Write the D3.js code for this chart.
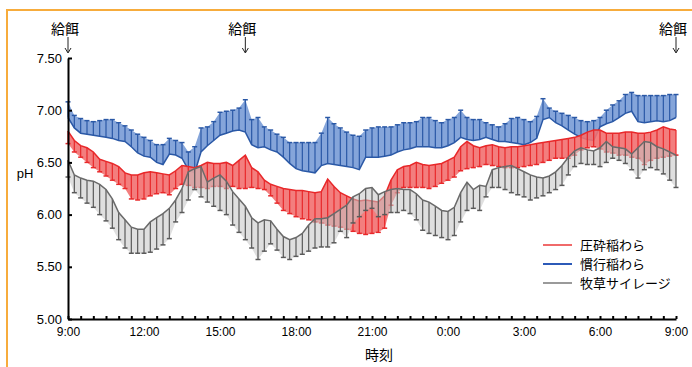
<!DOCTYPE html>
<html>
<head>
<meta charset="utf-8">
<script src="https://cdn.jsdelivr.net/npm/d3@7"></script>
<style>
  body { margin: 0; background: #fff; }
  svg { display: block; font-family: "Liberation Sans", Arial, sans-serif; }
  .jp { font-family: "Noto Sans CJK JP", sans-serif; }
</style>
</head>
<body>
<div id="chart"></div>
<script>
// samples every 15 min from 9:00 to 9:00 next day
const stepHours = 0.25;

const xTickLabels = ['9:00', '12:00', '15:00', '18:00', '21:00', '0:00', '3:00', '6:00', '9:00'];
const yTicks = [5.0, 5.5, 6.0, 6.5, 7.0, 7.5];
const feedHours = [0, 7, 24];
const seriesNames = ['圧砕稲わら', '慣行稲わら', '牧草サイレージ'];

// 慣行稲わら : mean and upper end of the error bar
const blueMean = [6.93, 6.83, 6.78, 6.77, 6.76, 6.75, 6.74, 6.73, 6.71, 6.70,
  6.65, 6.59, 6.56, 6.55, 6.50, 6.48, 6.58, 6.57, 6.54, 6.43,
  6.40, 6.60, 6.66, 6.71, 6.76, 6.78, 6.80, 6.81, 6.79, 6.67,
  6.64, 6.65, 6.62, 6.60, 6.55, 6.49, 6.44, 6.42, 6.41, 6.40,
  6.47, 6.49, 6.48, 6.47, 6.46, 6.45, 6.43, 6.55, 6.55, 6.55,
  6.56, 6.57, 6.60, 6.62, 6.63, 6.65, 6.65, 6.65, 6.64, 6.64,
  6.66, 6.69, 6.74, 6.72, 6.71, 6.72, 6.74, 6.72, 6.70, 6.70,
  6.69, 6.68, 6.67, 6.69, 6.73, 6.91, 6.93, 6.88, 6.85, 6.81,
  6.77, 6.74, 6.72, 6.71, 6.84, 6.87, 6.89, 6.93, 6.97, 6.99,
  6.89, 6.88, 6.89, 6.90, 6.89, 6.90, 6.93];
const blueHi = [7.08, 6.95, 6.92, 6.90, 6.89, 6.90, 6.91, 6.91, 6.88, 6.85,
  6.81, 6.77, 6.74, 6.71, 6.67, 6.67, 6.73, 6.71, 6.69, 6.60,
  6.65, 6.83, 6.84, 6.89, 6.98, 6.99, 7.00, 7.02, 7.10, 6.91,
  6.93, 6.84, 6.81, 6.77, 6.74, 6.69, 6.69, 6.69, 6.69, 6.69,
  6.78, 6.93, 6.87, 6.83, 6.79, 6.76, 6.75, 6.81, 6.83, 6.84,
  6.84, 6.84, 6.86, 6.88, 6.88, 6.89, 6.93, 6.93, 6.90, 6.88,
  6.91, 6.93, 7.00, 6.93, 6.91, 6.91, 6.88, 6.86, 6.84, 6.87,
  6.92, 6.93, 6.91, 6.89, 6.94, 7.11, 7.02, 6.99, 6.97, 6.95,
  6.93, 6.90, 6.89, 6.90, 6.93, 7.00, 7.05, 7.09, 7.15, 7.17,
  7.14, 7.14, 7.14, 7.14, 7.14, 7.15, 7.15];

// 圧砕稲わら : mean and lower end of the error bar
const redMean = [6.80, 6.71, 6.66, 6.64, 6.60, 6.53, 6.51, 6.49, 6.46, 6.40,
  6.38, 6.38, 6.40, 6.41, 6.40, 6.39, 6.38, 6.42, 6.47, 6.46,
  6.45, 6.47, 6.50, 6.49, 6.49, 6.50, 6.47, 6.52, 6.57, 6.45,
  6.41, 6.33, 6.29, 6.27, 6.25, 6.24, 6.23, 6.23, 6.22, 6.21,
  6.22, 6.34, 6.27, 6.21, 6.18, 6.15, 6.13, 6.14, 6.13, 6.12,
  6.18, 6.33, 6.43, 6.46, 6.47, 6.50, 6.48, 6.47, 6.48, 6.49,
  6.52, 6.55, 6.65, 6.70, 6.66, 6.64, 6.66, 6.67, 6.65, 6.64,
  6.65, 6.65, 6.66, 6.67, 6.68, 6.69, 6.70, 6.71, 6.72, 6.73,
  6.74, 6.76, 6.79, 6.81, 6.81, 6.78, 6.78, 6.78, 6.79, 6.79,
  6.78, 6.78, 6.79, 6.81, 6.84, 6.82, 6.81];
const redLo = [6.68, 6.60, 6.55, 6.50, 6.45, 6.41, 6.37, 6.33, 6.29, 6.25,
  6.15, 6.14, 6.15, 6.18, 6.20, 6.21, 6.19, 6.25, 6.29, 6.28,
  6.26, 6.26, 6.25, 6.27, 6.27, 6.25, 6.27, 6.25, 6.25, 6.26,
  6.25, 6.24, 6.18, 6.11, 6.04, 6.01, 5.98, 5.96, 5.95, 5.93,
  5.92, 5.90, 5.89, 5.88, 5.86, 5.84, 5.82, 5.81, 5.82, 5.83,
  5.87, 6.09, 6.21, 6.26, 6.26, 6.26, 6.26, 6.25, 6.27, 6.30,
  6.33, 6.36, 6.42, 6.44, 6.45, 6.46, 6.48, 6.47, 6.46, 6.45,
  6.45, 6.45, 6.46, 6.47, 6.48, 6.50, 6.52, 6.54, 6.54, 6.54,
  6.57, 6.62, 6.64, 6.65, 6.63, 6.60, 6.59, 6.57, 6.57, 6.55,
  6.54, 6.48, 6.52, 6.54, 6.55, 6.56, 6.57];

// 牧草サイレージ : mean and lower end of the error bar
const grayMean = [6.52, 6.38, 6.35, 6.33, 6.32, 6.29, 6.24, 6.15, 6.02, 5.95,
  5.88, 5.86, 5.86, 5.93, 5.97, 6.01, 6.06, 6.14, 6.25, 6.41,
  6.44, 6.46, 6.31, 6.35, 6.38, 6.32, 6.22, 6.15, 6.08, 5.97,
  5.92, 5.95, 5.94, 5.86, 5.79, 5.76, 5.78, 5.82, 5.90, 5.96,
  5.96, 5.97, 6.01, 6.05, 6.09, 6.17, 6.20, 6.25, 6.26, 6.19,
  6.22, 6.24, 6.25, 6.24, 6.24, 6.20, 6.14, 6.12, 6.08, 6.04,
  6.03, 6.07, 6.21, 6.31, 6.24, 6.28, 6.27, 6.43, 6.45, 6.46,
  6.47, 6.44, 6.41, 6.38, 6.36, 6.35, 6.37, 6.41, 6.47, 6.55,
  6.61, 6.64, 6.62, 6.61, 6.64, 6.70, 6.65, 6.64, 6.63, 6.58,
  6.64, 6.70, 6.69, 6.65, 6.63, 6.60, 6.57];
const grayLo = [6.36, 6.21, 6.16, 6.11, 6.07, 6.00, 5.94, 5.87, 5.76, 5.68,
  5.63, 5.63, 5.63, 5.64, 5.67, 5.71, 5.77, 5.93, 6.02, 6.14,
  6.24, 6.17, 6.12, 6.08, 6.04, 6.00, 5.90, 5.83, 5.76, 5.68,
  5.57, 5.65, 5.72, 5.66, 5.59, 5.57, 5.60, 5.62, 5.65, 5.68,
  5.69, 5.69, 5.73, 5.84, 5.78, 5.92, 5.98, 6.04, 6.06, 5.98,
  6.00, 6.02, 6.02, 6.04, 6.01, 5.95, 5.85, 5.82, 5.80, 5.78,
  5.76, 5.80, 5.93, 6.04, 6.06, 6.04, 6.17, 6.26, 6.26, 6.24,
  6.21, 6.19, 6.17, 6.14, 6.16, 6.18, 6.21, 6.24, 6.28, 6.38,
  6.46, 6.49, 6.48, 6.48, 6.46, 6.50, 6.54, 6.52, 6.49, 6.43,
  6.35, 6.43, 6.45, 6.43, 6.39, 6.33, 6.26];

const width = 692;
const height = 367;
const margin = { top: 58, right: 16, bottom: 48, left: 68 };

const svg = d3.select('#chart').append('svg')
  .attr('width', width)
  .attr('height', height);

// orange frame (only top and left edges visible)
svg.append('path')
  .attr('d', `M7,${height}V10H${width}`)
  .attr('fill', 'none')
  .attr('stroke', '#f7ac3c')
  .attr('stroke-width', 2);

const x = d3.scaleLinear()
  .domain([0, 24])
  .range([margin.left, width - margin.right]);

const y = d3.scaleLinear()
  .domain([5, 7.5])
  .range([height - margin.bottom, margin.top]);

// draw order: blue under red under gray
const series = [
  { mean: blueMean, end: blueHi, bar: '#2a58a6', fill: '#85a5da', line: '#2a58a6', fillOpacity: 1 },
  { mean: redMean, end: redLo, bar: '#e8282a', fill: '#f27070', line: '#e8282a', fillOpacity: 0.9 },
  { mean: grayMean, end: grayLo, bar: '#5a5a5a', fill: '#c4c4c4', line: '#6a6a6a', fillOpacity: 0.55 }
];

const plot = svg.append('g').attr('class', 'plot');

series.forEach(s => {
  const pts = s.mean.map((m, i) => ({ t: i * stepHours, m: m, e: s.end[i] }));
  const g = plot.append('g');

  g.append('path')
    .datum(pts)
    .attr('fill', s.fill)
    .attr('fill-opacity', s.fillOpacity)
    .attr('d', d3.area().x(d => x(d.t)).y0(d => y(d.m)).y1(d => y(d.e)));

  g.selectAll('.bar')
    .data(pts)
    .enter()
    .append('line')
    .attr('class', 'bar')
    .attr('x1', d => x(d.t))
    .attr('x2', d => x(d.t))
    .attr('y1', d => y(d.m))
    .attr('y2', d => y(d.e))
    .attr('stroke', s.bar)
    .attr('stroke-width', 1.2);

  g.selectAll('.cap')
    .data(pts)
    .enter()
    .append('line')
    .attr('class', 'cap')
    .attr('x1', d => x(d.t) - 2.5)
    .attr('x2', d => x(d.t) + 2.5)
    .attr('y1', d => y(d.e))
    .attr('y2', d => y(d.e))
    .attr('stroke', s.bar)
    .attr('stroke-width', 1.5);

  g.append('path')
    .datum(pts)
    .attr('fill', 'none')
    .attr('stroke', s.line)
    .attr('stroke-width', 1.5)
    .attr('d', d3.line().x(d => x(d.t)).y(d => y(d.m)));
});

// y axis, ticks pointing inward
const yAxis = svg.append('g')
  .attr('transform', `translate(${margin.left},0)`)
  .call(d3.axisLeft(y)
    .tickValues(yTicks)
    .tickFormat(d3.format('.2f'))
    .tickSizeInner(-4)
    .tickSizeOuter(0)
    .tickPadding(6));
yAxis.select('.domain').attr('stroke-width', 2);
yAxis.selectAll('.tick line').attr('stroke-width', 2);
yAxis.selectAll('text').attr('font-size', 13).attr('fill', '#000');

// x axis : minor ticks every 30 min, labels every 3 hours
const xMinor = svg.append('g')
  .attr('transform', `translate(0,${height - margin.bottom})`)
  .call(d3.axisBottom(x)
    .tickValues(d3.range(0, 24.001, 0.5))
    .tickFormat('')
    .tickSizeInner(-3)
    .tickSizeOuter(0));
xMinor.select('.domain').attr('stroke-width', 2);
xMinor.selectAll('.tick line').attr('stroke-width', 2);

const xLabels = svg.append('g')
  .attr('transform', `translate(0,${height - margin.bottom})`)
  .call(d3.axisBottom(x)
    .tickValues(xTickLabels.map((d, i) => i * 3))
    .tickFormat((d, i) => xTickLabels[i])
    .tickSize(0)
    .tickPadding(8));
xLabels.select('.domain').remove();
xLabels.selectAll('text').attr('font-size', 12).attr('fill', '#000');

// axis titles
svg.append('text')
  .attr('x', 25)
  .attr('y', 178)
  .attr('text-anchor', 'middle')
  .attr('font-size', 13)
  .text('pH');

svg.append('text')
  .attr('class', 'jp')
  .attr('x', 379)
  .attr('y', 360)
  .attr('text-anchor', 'middle')
  .attr('font-size', 14)
  .text('時刻');

// feeding markers
const feed = svg.append('g').attr('class', 'feed');
feedHours.forEach(h => {
  const fx = x(h);
  feed.append('text')
    .attr('class', 'jp')
    .attr('x', fx - 3)
    .attr('y', 34)
    .attr('text-anchor', 'middle')
    .attr('font-size', 14)
    .text('給餌');
  feed.append('line')
    .attr('x1', fx).attr('x2', fx)
    .attr('y1', 37).attr('y2', 52)
    .attr('stroke', '#222')
    .attr('stroke-width', 1);
  feed.append('path')
    .attr('d', `M${fx - 3},48L${fx},53L${fx + 3},48`)
    .attr('fill', 'none')
    .attr('stroke', '#222')
    .attr('stroke-width', 1);
});

// legend
const legendColors = ['#f06a6a', '#2c5ab8', '#9a9a9a'];
const legend = svg.append('g')
  .attr('transform', 'translate(543,245)');

seriesNames.forEach((name, i) => {
  const row = legend.append('g').attr('transform', `translate(0,${i * 19})`);
  row.append('line')
    .attr('x1', 0).attr('x2', 29)
    .attr('y1', 0).attr('y2', 0)
    .attr('stroke', legendColors[i])
    .attr('stroke-width', 2);
  row.append('text')
    .attr('class', 'jp')
    .attr('x', 37)
    .attr('y', 5)
    .attr('font-size', 13)
    .text(name);
});
</script>
</body>
</html>
